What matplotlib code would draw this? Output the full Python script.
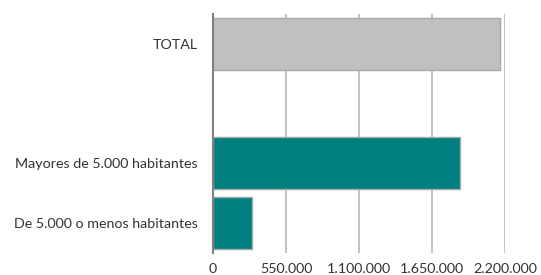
import matplotlib.pyplot as plt
from matplotlib.ticker import FuncFormatter

plt.rcParams['font.family'] = ['Lato', 'DejaVu Sans']

categories = ["TOTAL", "", "Mayores de 5.000 habitantes", "De 5.000 o menos habitantes"]
values = [2162000, 0, 1863000, 296000]
colors = ["#c0c0c0", "#ffffff", "#007f7f", "#007f7f"]
edges = ["#a8a8a8", "#ffffff", "#a8a8a8", "#a8a8a8"]
xticks = [0, 550000, 1100000, 1650000, 2200000]

fig = plt.figure(figsize=(5.41, 2.75), dpi=100)
ax = fig.add_axes([213 / 541, 1 - 253 / 275, (505 - 213) / 541, (253 - 14) / 275])

pos = list(range(len(categories)))
for i, (v, c, e) in enumerate(zip(values, colors, edges)):
    if v > 0:
        ax.barh(pos[i], v, height=0.87, color=c, edgecolor=e, linewidth=1, zorder=3)

ax.set_xlim(0, 2200000)
ax.set_ylim(3.5, -0.5)
ax.set_xticks(xticks)
ax.xaxis.set_major_formatter(FuncFormatter(lambda x, p: f"{int(x):,}".replace(",", ".")))
ax.set_yticks(pos)
ax.set_yticklabels(categories)
ax.grid(axis='x', color='#b8b8b8', linewidth=1.2, zorder=0)
for s in ['top', 'right', 'bottom']:
    ax.spines[s].set_visible(False)
ax.spines['left'].set_color('#808080')
ax.spines['left'].set_linewidth(1.5)
ax.spines['left'].set_zorder(4)
ax.tick_params(axis='both', length=0, labelsize=10.3, labelcolor='#333333')
ax.tick_params(axis='y', pad=11)
ax.tick_params(axis='x', pad=7)

fig.savefig("out.png", dpi=100)
